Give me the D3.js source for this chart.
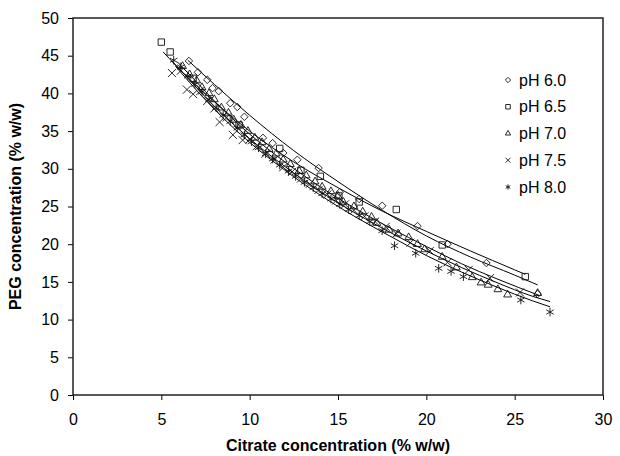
<!DOCTYPE html>
<html><head><meta charset="utf-8">
<script src="https://cdn.jsdelivr.net/npm/d3@7"></script>
<style>
body{margin:0;background:#fff}
svg{display:block}
text{font-family:"Liberation Sans",Arial,sans-serif;fill:#000}
</style>
</head><body>
<svg id="chart" width="620" height="456"></svg>
<script>
// ---------- data ----------
const seriesNames = ["pH 6.0", "pH 6.5", "pH 7.0", "pH 7.5", "pH 8.0"];
const xTicks = [0, 5, 10, 15, 20, 25, 30];
const yTicks = [0, 5, 10, 15, 20, 25, 30, 35, 40, 45, 50];
const xTitle = "Citrate concentration (% w/w)";
const yTitle = "PEG concentration (% w/w)";

// experimental binodal points [citrate, PEG]
const ph60 = [[6.56,44.3],[7.07,42.8],[7.6,41.8],[7.9,40.7],[8.25,40.3],[8.9,38.7],[9.3,38.2],[9.7,36.9],
  [10.75,34.1],[11.3,33.4],[11.9,32.1],[12.7,31.2],[13.9,30.1],[15.1,26.9],[16.2,26.0],[17.5,25.1],
  [19.5,22.4],[21.2,20.0],[23.4,17.5],[26.3,13.4]];
const ph65 = [[5.0,46.8],[5.5,45.5],[6.8,42.0],[9.4,35.8],[11.7,32.7],[12.9,29.8],[14.0,29.0],[15.05,26.4],
  [16.2,25.6],[18.3,24.6],[20.9,19.9],[25.6,15.7]];
const ph70 = [[6.2,43.6],[6.6,42.5],[7.0,41.7],[7.3,40.8],[7.7,40.0],[8.0,39.2],[8.4,38.1],[8.8,37.4],
  [9.1,36.5],[9.5,35.8],[9.9,35.0],[10.3,34.1],[10.7,33.5],[11.1,32.6],[11.5,32.0],[11.9,31.2],[12.3,30.6],
  [12.8,29.7],[13.2,29.1],[13.7,28.3],[14.1,27.6],[14.6,27.0],[15.0,26.4],[15.3,25.6],[15.9,25.0],[16.4,24.3],
  [16.9,23.6],[17.2,22.8],[17.9,21.9],[18.4,21.4],[19.0,20.9],[19.5,20.0],[19.9,19.3],[20.9,18.3],[21.7,16.9],
  [22.6,15.6],[23.1,14.9],[23.5,14.6],[24.05,14.0],[24.6,13.3],[26.3,13.5]];
const ph75 = [[5.6,42.7],[6.1,43.0],[6.45,40.5],[6.8,39.9],[7.2,40.3],[7.6,39.0],[8.0,38.0],[8.3,36.2],
  [8.7,36.8],[9.05,34.5],[9.6,33.8],[10.0,33.9],[10.4,33.0],[10.9,32.0],[11.4,31.2],[11.9,30.2],[12.4,29.6],
  [12.9,28.7],[13.4,28.0],[13.9,27.2],[14.4,26.6],[14.9,25.8],[15.4,25.3],[15.9,24.5],[16.5,23.7],[17.1,23.0],
  [17.7,22.3],[18.3,21.4],[19.1,20.2],[20.2,19.1],[21.2,17.6],[22.4,16.6],[23.6,15.5],[25.3,13.6]];
const ph80 = [[5.7,44.4],[6.1,43.5],[6.5,42.3],[6.9,41.2],[7.3,40.2],[7.7,39.2],[8.1,38.1],[8.5,37.1],
  [8.9,36.3],[9.3,35.4],[9.7,34.5],[10.1,33.6],[10.5,32.8],[10.9,32.0],[11.3,31.3],[11.7,30.5],[12.2,29.7],
  [12.6,29.0],[13.1,28.2],[13.6,27.5],[14.1,26.7],[14.6,26.0],[15.1,25.3],[15.6,24.6],[16.2,23.8],[16.8,23.0],
  [17.5,21.8],[18.2,19.8],[19.4,18.8],[20.7,16.8],[21.4,16.4],[22.1,15.7],[25.35,12.6],[27.0,11.0]];

// fitted curves [citrate, PEG]
const fit60 = [[6.5,44.4],[8,41.2],[10,37.1],[12.5,32.4],[15,28.3],[17.5,24.5],[20,21.1],[22.5,18.3],[25,15.9],[26.3,14.6]];
const fit65 = [[5.1,45.5],[6.5,42.1],[8,38.9],[10,35.0],[12.5,30.9],[15,27.5],[17.5,24.4],[20,21.7],[22.5,19.1],[25,16.6],[25.6,16.0]];
const fit70 = [[5.9,44.2],[7,41.5],[8,39.0],[10,34.6],[12,30.9],[14,27.6],[16,24.7],[18,22.1],[20,19.7],[22,17.4],[24,15.4],[26.4,13.2]];
const fit75 = [[5.6,44.3],[6,43.3],[8,38.3],[10,34.0],[12,30.3],[14,27.0],[16,24.1],[18,21.5],[20,19.1],[22,16.9],[24,14.9],[26,13.1],[27,12.4]];
const fit80 = [[5.8,43.6],[8,37.9],[10,33.5],[12,29.8],[14,26.5],[16,23.6],[18,21.0],[20,18.5],[22,16.3],[24,14.3],[26,12.5],[27,11.7]];

// ---------- chart ----------
const svg = d3.select("#chart");
const L = 73, R = 603, T = 18, B = 395;
const x = d3.scaleLinear().domain([0, 30]).range([L, R]);
const y = d3.scaleLinear().domain([0, 50]).range([B, T]);

const points = [ph60, ph65, ph70, ph75, ph80];
const fits = [fit60, fit65, fit70, fit75, fit80];
const symbols = [d3.symbolDiamond2, d3.symbolSquare2, d3.symbolTriangle2, d3.symbolTimes, d3.symbolAsterisk];
const sizes = [36, 52, 44, 44, 52];
const legSizes = [18, 26, 20, 18, 20];

// axes
const xAxis = d3.axisBottom(x).tickValues(xTicks).tickSize(5).tickSizeOuter(0).tickPadding(14);
const yAxis = d3.axisLeft(y).tickValues(yTicks).tickSize(5).tickSizeOuter(0).tickPadding(9);
const gx = svg.append("g").attr("transform", `translate(0,${B})`).call(xAxis);
const gy = svg.append("g").attr("transform", `translate(${L},0)`).call(yAxis);
[gx, gy].forEach(g => {
  g.select(".domain").remove();
  g.selectAll(".tick line").attr("stroke", "#000").attr("stroke-width", 1);
  g.selectAll(".tick text").attr("font-size", 16).attr("font-family", '"Liberation Sans",Arial,sans-serif').attr("fill", "#000");
});

// frame
svg.append("rect").attr("x", L).attr("y", T).attr("width", R - L).attr("height", B - T)
  .attr("fill", "none").attr("stroke", "#222").attr("stroke-width", 1.5);

// fitted lines
const line = d3.line().x(d => x(d[0])).y(d => y(d[1])).curve(d3.curveMonotoneX);
svg.append("g").selectAll("path").data(fits).join("path")
  .attr("d", line).attr("fill", "none").attr("stroke", "#000").attr("stroke-width", 1);

// markers
points.forEach((pts, i) => {
  const sym = d3.symbol().type(symbols[i]).size(sizes[i]);
  svg.append("g").selectAll("path").data(pts).join("path")
    .attr("transform", d => `translate(${x(d[0])},${y(d[1])})`)
    .attr("d", sym).attr("fill", "none").attr("stroke", "#111").attr("stroke-width", 0.9);
});

// legend
const legY = d3.scaleLinear().domain([0, 4]).range([80, 187]);
const leg = svg.append("g");
seriesNames.forEach((n, i) => {
  leg.append("path").attr("transform", `translate(508,${legY(i)})`)
    .attr("d", d3.symbol().type(symbols[i]).size(legSizes[i]))
    .attr("fill", "none").attr("stroke", "#111").attr("stroke-width", 0.9);
  leg.append("text").attr("x", 519).attr("y", legY(i)).attr("dy", "0.35em")
    .attr("font-size", 16).text(n);
});

// axis titles
svg.append("text").attr("x", (L + R) / 2).attr("y", 451).attr("text-anchor", "middle")
  .attr("font-size", 16).attr("font-weight", "bold").text(xTitle);
svg.append("text").attr("transform", `translate(21,${(T + B) / 2}) rotate(-90)`).attr("text-anchor", "middle")
  .attr("font-size", 16).attr("font-weight", "bold").text(yTitle);
</script>
</body></html>
